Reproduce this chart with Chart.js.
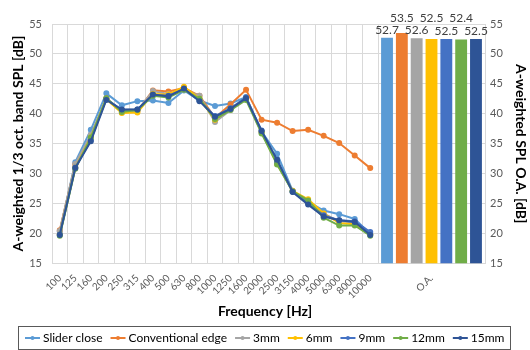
<!DOCTYPE html>
<html>
<head>
<meta charset="utf-8">
<script src="https://cdn.jsdelivr.net/npm/chart.js@4.4.1/dist/chart.umd.min.js"></script>
<style>
  html, body { margin: 0; padding: 0; background: #fff; }
</style>
</head>
<body>
<canvas id="splChart" width="530" height="350"></canvas>
<script>
// Chart data
const frequencies = ['100', '125', '160', '200', '250', '315', '400', '500', '630', '800', '1000',
  '1250', '1600', '2000', '2500', '3150', '4000', '5000', '6300', '8000', '10000'];
const overallLabels = ['O.A.'];
const yTicks = [15, 20, 25, 30, 35, 40, 45, 50, 55];

const seriesNames = ['Slider close', 'Conventional edge', '3mm', '6mm', '9mm', '12mm', '15mm'];
const seriesColors = ['#5B9BD5', '#ED7D31', '#A5A5A5', '#FFC000', '#4472C4', '#70AD47', '#2E5496'];

const sliderClose = [20.3, 31.9, 37.3, 43.4, 41.4, 42.1, 42.2, 41.8, 43.9, 42.2, 41.3,
  41.7, 42.8, 37.0, 33.3, 27.1, 25.3, 23.8, 23.2, 22.4, 19.9];
const conventionalEdge = [20.5, 31.5, 36.2, 42.6, 40.2, 40.4, 43.9, 43.7, 44.3, 43.0, 39.3,
  41.6, 44.0, 39.0, 38.5, 37.1, 37.3, 36.3, 35.1, 33.0, 30.9];
const edge3mm = [20.4, 31.6, 36.5, 42.5, 40.5, 40.5, 43.8, 43.3, 44.0, 43.0, 38.6,
  40.6, 42.6, 36.8, 32.0, 27.0, 25.5, 23.3, 22.0, 21.8, 19.8];
const edge6mm = [19.8, 31.0, 36.0, 42.4, 40.1, 40.2, 43.3, 43.2, 44.5, 42.5, 39.0,
  40.8, 42.6, 37.0, 31.6, 27.1, 25.7, 23.3, 21.7, 21.5, 19.8];
const edge9mm = [19.8, 31.0, 35.6, 42.5, 40.6, 40.7, 43.1, 43.0, 44.1, 42.2, 39.6,
  40.9, 42.7, 37.2, 31.9, 27.0, 25.0, 23.0, 22.2, 22.0, 20.2];
const edge12mm = [19.6, 30.8, 36.0, 42.6, 40.3, 40.6, 43.0, 42.7, 44.0, 42.5, 39.1,
  40.6, 42.3, 36.7, 31.5, 27.0, 25.5, 22.6, 21.3, 21.3, 19.6];
const edge15mm = [19.7, 30.9, 35.4, 42.3, 40.7, 40.7, 43.2, 42.9, 44.2, 42.1, 39.5,
  40.8, 42.6, 37.1, 32.3, 26.9, 24.8, 22.8, 22.2, 21.9, 19.7];

// overall (O.A.) level per series
const overallValues = [52.7, 53.5, 52.6, 52.5, 52.5, 52.4, 52.5];

const bandSeries = [sliderClose, conventionalEdge, edge3mm, edge6mm, edge9mm, edge12mm, edge15mm];

const FONT = 'Lato';
const gridColor = '#d9d9d9';
const tickColor = '#595959';

// Newer v4 builds split grouped bars between every x axis used by any dataset;
// the lines live on their own axis, so keep the bar group to one axis.
if (Chart.BarController && Chart.BarController.prototype._getAxisCount) {
  Chart.BarController.prototype._getAxisCount = function() { return 1; };
}

// Build datasets (bars first so they get axis slot 0)
const barSets = overallValues.map(function(value, i) {
  return {
    type: 'bar',
    label: seriesNames[i] + ' O.A.',
    data: [value],
    xAxisID: 'x2',
    yAxisID: 'y2',
    backgroundColor: seriesColors[i],
    barPercentage: 0.8,
    categoryPercentage: 0.97,
    order: 20
  };
});

const lineSets = bandSeries.map(function(values, i) {
  return {
    type: 'line',
    label: seriesNames[i],
    data: values,
    xAxisID: 'x',
    yAxisID: 'y',
    borderColor: seriesColors[i],
    backgroundColor: seriesColors[i],
    borderWidth: 2,
    pointRadius: 2,
    pointHoverRadius: 2,
    tension: 0,
    order: 7 - i
  };
});

// Value labels above the bars (alternating rows)
const barLabels = {
  id: 'barLabels',
  afterDatasetsDraw(chart) {
    const ctx = chart.ctx;
    const tops = [];
    chart.data.datasets.forEach(function(ds, i) {
      if (ds.type === 'bar') tops.push({ i: i, el: chart.getDatasetMeta(i).data[0] });
    });
    const minTop = Math.min.apply(null, tops.map(t => t.el.y));
    ctx.save();
    ctx.font = '12px ' + FONT;
    ctx.fillStyle = '#404040';
    ctx.textAlign = 'center';
    ctx.textBaseline = 'bottom';
    tops.forEach(function(t, k) {
      const y = (k % 2 === 0) ? t.el.y - 2 : minTop - 9;
      ctx.fillText(chart.data.datasets[t.i].data[0].toFixed(1), t.el.x, y);
    });
    ctx.restore();
  }
};

// Boxed legend under the chart
const boxedLegend = {
  id: 'boxedLegend',
  afterDraw(chart) {
    const ctx = chart.ctx;
    const lineLen = 15, gap = 3, spacing = 8;
    ctx.save();
    ctx.font = '12px ' + FONT;
    const widths = seriesNames.map(n => lineLen + gap + ctx.measureText(n).width);
    const total = widths.reduce((a, b) => a + b, 0) + spacing * (widths.length - 1);
    let x = Math.round((chart.width - total) / 2);
    const y = 338;
    ctx.strokeStyle = '#595959';
    ctx.lineWidth = 1;
    ctx.strokeRect(x - 6.5, 326.5, Math.round(total) + 13, 23);
    ctx.textBaseline = 'middle';
    ctx.textAlign = 'left';
    seriesNames.forEach(function(name, i) {
      ctx.strokeStyle = seriesColors[i];
      ctx.fillStyle = seriesColors[i];
      ctx.lineWidth = 2;
      ctx.beginPath();
      ctx.moveTo(x, y);
      ctx.lineTo(x + lineLen, y);
      ctx.stroke();
      ctx.beginPath();
      ctx.arc(x + lineLen / 2, y, 2, 0, Math.PI * 2);
      ctx.fill();
      ctx.fillStyle = '#000';
      ctx.fillText(name, x + lineLen + gap, y);
      x += widths[i] + spacing;
    });
    ctx.restore();
  }
};

const tickFont = { family: FONT, size: 11 };
const xTickFont = { family: FONT, size: 10 };
const titleFont = { family: FONT, size: 14, weight: 'bold' };

const ctx = document.getElementById('splChart').getContext('2d');
const splChart = new Chart(ctx, {
  type: 'line',
  data: {
    labels: frequencies,
    datasets: barSets.concat(lineSets)
  },
  options: {
    responsive: false,
    animation: false,
    devicePixelRatio: 1,
    layout: { padding: { top: 24, bottom: 30, left: 0, right: 0 } },
    plugins: {
      legend: { display: false },
      tooltip: { enabled: false },
      title: {
        display: true,
        position: 'bottom',
        text: 'Frequency [Hz]',
        color: '#000',
        font: titleFont,
        padding: 0
      }
    },
    scales: {
      x: {
        type: 'category',
        labels: frequencies,
        position: 'bottom',
        stack: 'freq',
        stackWeight: 326,
        offset: true,
        grid: { offset: true, color: gridColor, drawTicks: false },
        border: { color: gridColor },
        ticks: {
          autoSkip: false, minRotation: 45, maxRotation: 45,
          font: xTickFont, color: tickColor, padding: 9
        },
        afterFit: function(scale) { scale.height = 40; }
      },
      x2: {
        type: 'category',
        labels: overallLabels,
        position: 'bottom',
        stack: 'freq',
        stackWeight: 107,
        offset: true,
        grid: { offset: true, color: gridColor, drawTicks: false },
        border: { color: gridColor },
        ticks: {
          autoSkip: false, minRotation: 45, maxRotation: 45,
          font: xTickFont, color: tickColor, padding: 9
        },
        afterFit: function(scale) { scale.height = 40; }
      },
      y: {
        type: 'linear',
        position: 'left',
        min: 15,
        max: 55,
        afterBuildTicks: function(scale) { scale.ticks = yTicks.map(v => ({ value: v })); },
        grid: { color: gridColor, drawTicks: false },
        border: { display: false },
        ticks: { font: tickFont, color: tickColor, padding: 10 },
        title: {
          display: true,
          text: 'A-weighted 1/3 oct. band SPL [dB]',
          color: '#000',
          font: titleFont,
          padding: { top: 10, bottom: 0 }
        },
        afterFit: function(scale) { scale.width = 52; }
      },
      y2: {
        type: 'linear',
        position: 'right',
        min: 15,
        max: 55,
        afterBuildTicks: function(scale) { scale.ticks = yTicks.map(v => ({ value: v })); },
        grid: { display: false, drawTicks: false },
        border: { display: false },
        ticks: { font: tickFont, color: tickColor, padding: 5 },
        title: {
          display: true,
          text: 'A-weighted SPL O.A. [dB]',
          color: '#000',
          font: titleFont,
          padding: { top: 1, bottom: 0 }
        },
        afterFit: function(scale) { scale.width = 45; }
      }
    }
  },
  plugins: [barLabels, boxedLegend]
});
</script>
</body>
</html>
